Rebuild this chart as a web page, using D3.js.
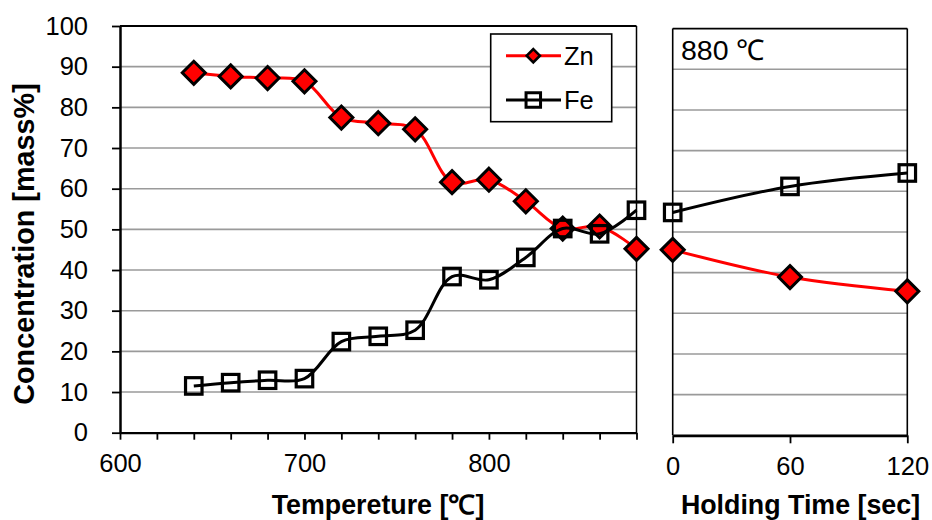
<!DOCTYPE html>
<html>
<head>
<meta charset="utf-8">
<script src="https://cdn.jsdelivr.net/npm/d3@7"></script>
<style>
  html, body { margin: 0; padding: 0; background: #fff; }
  svg { display: block; font-family: "Liberation Sans", Arial, sans-serif; }
</style>
</head>
<body>
<div id="chart"></div>
<script>
/* Zn / Fe concentration vs temperature, then holding time at 880 C */

var tempC    = [640, 660, 680, 700, 720, 740, 760, 780, 800, 820, 840, 860, 880];
var znByTemp = [88.5, 87.6, 87.2, 86.4, 77.5, 76.1, 74.6, 61.6, 62.2, 56.9, 50.2, 50.7, 45.2];
var feByTemp = [11.5, 12.3, 12.9, 13.3, 22.4, 23.7, 25.2, 38.4, 37.6, 43.1, 50.2, 48.9, 54.7];

var holdSec  = [0, 60, 120];
var znByHold = [45.6, 38.9, 35.4];
var feByHold = [54.8, 61.2, 64.5];

var yTicks     = [0, 10, 20, 30, 40, 50, 60, 70, 80, 90, 100];
var tempTicks  = [600, 700, 800];
var tempMinor  = [600, 620, 640, 660, 680, 700, 720, 740, 760, 780, 800, 820, 840, 860, 880];
var holdTicks  = [0, 60, 120];

var W = 932, H = 520;
var FS = 25.5;
var svg = d3.select('#chart').append('svg')
  .attr('width', W).attr('height', H);

/* panels */
var L = { x0: 120, x1: 636.5, y0: 432.7, y1: 26 };
var R = { x0: 672.7, x1: 907.3, y0: 435.3, y1: 28.6 };

var xL = d3.scaleLinear().domain([600, 880]).range([L.x0, L.x1]);
var yL = d3.scaleLinear().domain([0, 100]).range([L.y0, L.y1]);
var xR = d3.scaleLinear().domain([0, 120]).range([R.x0, R.x1]);
var yR = d3.scaleLinear().domain([0, 100]).range([R.y0, R.y1]);

var GRID = '#9a9a9a';

function grid(g, x0, x1, y) {
  g.selectAll('line.grid').data(yTicks.filter(function (v) { return v > 0 && v < 100; }))
    .enter().append('line')
    .attr('class', 'grid')
    .attr('x1', x0).attr('x2', x1)
    .attr('y1', function (d) { return y(d); })
    .attr('y2', function (d) { return y(d); })
    .attr('stroke', GRID).attr('stroke-width', 1.6);
}

var gL = svg.append('g');
var gR = svg.append('g');
grid(gL, L.x0, L.x1, yL);
grid(gR, R.x0, R.x1, yR);

/* ── left panel frame and axes ── */
gL.append('line').attr('x1', L.x0).attr('x2', L.x1).attr('y1', L.y1).attr('y2', L.y1)
  .attr('stroke', '#000').attr('stroke-width', 2);
gL.append('line').attr('x1', L.x1).attr('x2', L.x1).attr('y1', L.y1).attr('y2', L.y0)
  .attr('stroke', '#000').attr('stroke-width', 1.5);

var yAxis = d3.axisLeft(yL).tickValues(yTicks).tickSize(8).tickPadding(24).tickSizeOuter(0);
var yAx = gL.append('g').attr('transform', 'translate(' + L.x0 + ',0)').call(yAxis);
yAx.select('.domain').attr('stroke-width', 2.5);
yAx.selectAll('.tick line').attr('stroke-width', 1.8);
yAx.selectAll('.tick text').attr('font-size', FS).attr('fill', '#000')
  .attr('font-family', '"Liberation Sans", Arial, sans-serif');

var xMinor = d3.axisBottom(xL).tickValues(tempMinor).tickSize(7).tickFormat('').tickSizeOuter(0);
var xm = gL.append('g').attr('transform', 'translate(0,' + L.y0 + ')').call(xMinor);
xm.select('.domain').attr('stroke-width', 2.2);
xm.selectAll('.tick line').attr('stroke-width', 1.8);

var xAxis = d3.axisBottom(xL).tickValues(tempTicks).tickSize(0).tickPadding(21);
var xa = gL.append('g').attr('transform', 'translate(0,' + L.y0 + ')').call(xAxis);
xa.select('.domain').remove();
xa.selectAll('.tick text').attr('font-size', FS).attr('fill', '#000')
  .attr('font-family', '"Liberation Sans", Arial, sans-serif');

/* ── right panel frame and axes ── */
gR.append('line').attr('x1', R.x0).attr('x2', R.x1).attr('y1', R.y1).attr('y2', R.y1)
  .attr('stroke', '#000').attr('stroke-width', 1.6);
gR.append('line').attr('x1', R.x0).attr('x2', R.x0).attr('y1', R.y1).attr('y2', R.y0)
  .attr('stroke', '#000').attr('stroke-width', 1.6);
gR.append('line').attr('x1', R.x1).attr('x2', R.x1).attr('y1', R.y1).attr('y2', R.y0)
  .attr('stroke', '#000').attr('stroke-width', 1.6);

var hAxis = d3.axisBottom(xR).tickValues(holdTicks).tickSize(8).tickPadding(14).tickSizeOuter(0);
var ha = gR.append('g').attr('transform', 'translate(0,' + R.y0 + ')').call(hAxis);
ha.select('.domain').attr('stroke-width', 2.8);
ha.selectAll('.tick line').attr('stroke-width', 1.8);
ha.selectAll('.tick text').attr('font-size', FS).attr('fill', '#000')
  .attr('font-family', '"Liberation Sans", Arial, sans-serif');

/* ── series ── */
var curve = d3.curveCatmullRom.alpha(0.5);

function diamond(g, cx, cy, r, sw) {
  g.append('path')
    .attr('d', 'M' + cx + ',' + (cy - r) + 'L' + (cx + r) + ',' + cy +
               'L' + cx + ',' + (cy + r) + 'L' + (cx - r) + ',' + cy + 'Z')
    .attr('fill', '#ff0000').attr('stroke', '#000').attr('stroke-width', sw)
    .attr('stroke-linejoin', 'miter');
}
function square(g, cx, cy, s, sw) {
  g.append('rect')
    .attr('x', cx - s / 2).attr('y', cy - s / 2).attr('width', s).attr('height', s)
    .attr('fill', 'none').attr('stroke', '#000').attr('stroke-width', sw);
}

function series(g, xs, ys, x, y, color, mark) {
  var pts = xs.map(function (d, i) { return [x(d), y(ys[i])]; });
  g.append('path')
    .attr('d', d3.line().curve(curve)(pts))
    .attr('fill', 'none').attr('stroke', color).attr('stroke-width', 3);
  pts.forEach(function (p) {
    if (mark === 'diamond') diamond(g, p[0], p[1], 11.5, 3);
    else square(g, p[0], p[1], 16.5, 3.2);
  });
}

var sL = svg.append('g');
series(sL, tempC, znByTemp, xL, yL, '#ff0000', 'diamond');
series(sL, tempC, feByTemp, xL, yL, '#000', 'square');
var sR = svg.append('g');
series(sR, holdSec, znByHold, xR, yR, '#ff0000', 'diamond');
series(sR, holdSec, feByHold, xR, yR, '#000', 'square');

/* ── legend ── */
var lg = svg.append('g');
lg.append('rect').attr('x', 490.7).attr('y', 34).attr('width', 121).attr('height', 87.7)
  .attr('fill', '#fff').attr('stroke', '#000').attr('stroke-width', 1.6);
[['Zn', '#ff0000', 'diamond', 55.7], ['Fe', '#000', 'square', 100]].forEach(function (e) {
  lg.append('line').attr('x1', 506).attr('x2', 561).attr('y1', e[3]).attr('y2', e[3])
    .attr('stroke', e[1]).attr('stroke-width', 3);
  if (e[2] === 'diamond') diamond(lg, 533.3, e[3], 6.6, 2.6);
  else square(lg, 533.3, e[3], 14.5, 3);
  lg.append('text').attr('x', 564).attr('y', e[3] + 9)
    .attr('font-size', 25.5).attr('fill', '#000').text(e[0]);
});

/* ── annotations and titles ── */
svg.append('text').attr('x', 681).attr('y', 60)
  .attr('font-size', 28.5).attr('fill', '#000').text('880 \u2103');

svg.append('text').attr('x', 378).attr('y', 514).attr('text-anchor', 'middle')
  .attr('font-size', 26.8).attr('font-weight', 'bold').attr('fill', '#000')
  .text('Tempereture [\u2103]');

svg.append('text').attr('x', 800.5).attr('y', 514).attr('text-anchor', 'middle')
  .attr('font-size', 26.8).attr('font-weight', 'bold').attr('fill', '#000')
  .text('Holding Time [sec]');

svg.append('text')
  .attr('transform', 'translate(34,244) rotate(-90)')
  .attr('text-anchor', 'middle')
  .attr('font-size', 28.8).attr('font-weight', 'bold').attr('fill', '#000')
  .text('Concentration [mass%]');
</script>
</body>
</html>
